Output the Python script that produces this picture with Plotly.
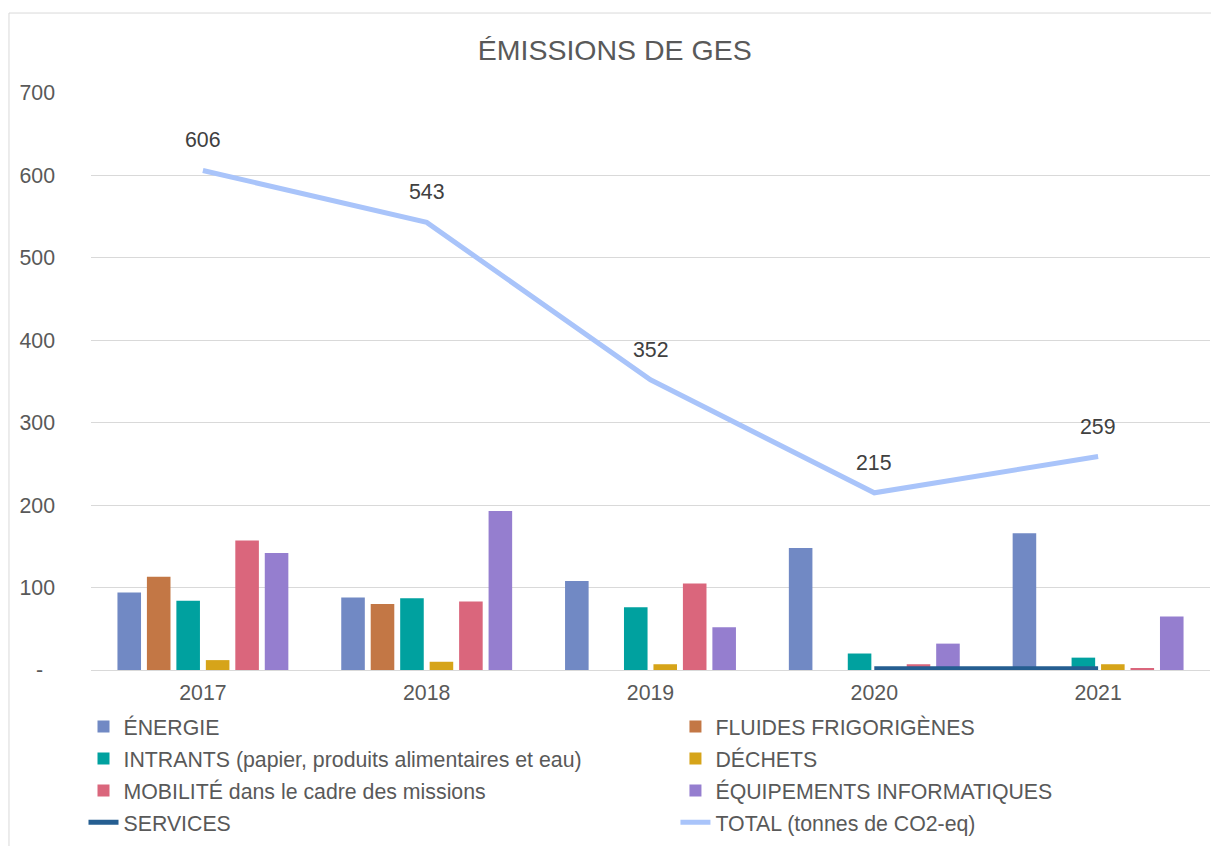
import plotly.graph_objects as go

years = ["2017", "2018", "2019", "2020", "2021"]

energie = [94, 88, 108, 148, 166]
fluides = [113, 80, None, None, None]
intrants = [84, 87, 76, 20, 15]
dechets = [12, 10, 7, 3, 7]
mobilite = [157, 83, 105, 7, 2]
equipements = [142, 193, 52, 32, 65]
services = [None, None, None, 1.5, 1.5]
total = [606, 543, 352, 215, 259]

y_ticks = [0, 100, 200, 300, 400, 500, 600, 700]
y_ticktext = ["-\u00a0\u00a0", "100", "200", "300", "400", "500", "600", "700"]

grey = "#595959"
font_family = "Liberation Sans, Arial, sans-serif"
txt_size = 21.3

# (name, values, colour, legend column)
bar_series = [
    ("ÉNERGIE", energie, "#7189C4", "legend"),
    ("FLUIDES FRIGORIGÈNES", fluides, "#C37745", "legend2"),
    ("INTRANTS (papier, produits alimentaires et eau)", intrants, "#00A19F", "legend"),
    ("DÉCHETS", dechets, "#D6A419", "legend2"),
    ("MOBILITÉ dans le cadre des missions", mobilite, "#DA667C", "legend"),
    ("ÉQUIPEMENTS INFORMATIQUES", equipements, "#957ECF", "legend2"),
]

fig = go.Figure()

for name, vals, color, leg in bar_series:
    fig.add_trace(go.Bar(
        x=years, y=vals, name=name, legend=leg, legendgroup=name,
        marker=dict(color=color, line=dict(width=0)),
    ))

fig.add_trace(go.Scatter(
    x=years, y=services, name="SERVICES", legend="legend", legendgroup="SERVICES",
    mode="lines",
    line=dict(color="#255E91", width=5),
))

fig.add_trace(go.Scatter(
    x=years, y=total, name="TOTAL (tonnes de CO2-eq)", legend="legend2",
    legendgroup="TOTAL", mode="lines",
    line=dict(color="#A9C4FA", width=5),
))

# data labels for the total (x as category index)
for i, v in enumerate(total):
    fig.add_annotation(
        x=i, y=v, text=str(v), showarrow=False, yshift=30,
        font=dict(family=font_family, size=txt_size, color="#404040"),
    )

# outer chart border
fig.add_shape(
    type="rect", xref="paper", yref="paper",
    x0=-0.0733, x1=1.0054, y0=-0.4, y1=1.1386,
    line=dict(color="#D9D9D9", width=1), fillcolor="rgba(0,0,0,0)",
    layer="below",
)

legend_common = dict(
    orientation="v", xref="paper", xanchor="left",
    yref="container", y=0.167, yanchor="top",
    tracegroupgap=1.3, traceorder="grouped",
    bgcolor="rgba(0,0,0,0)",
    font=dict(family=font_family, size=txt_size, color=grey),
)

fig.update_layout(
    width=1211, height=838,
    margin=dict(l=83, r=9, t=85, b=176),
    paper_bgcolor="white", plot_bgcolor="white",
    title=dict(
        text="ÉMISSIONS DE GES",
        xref="container", x=0.501, xanchor="center",
        yref="container", y=1 - 42 / 838, yanchor="middle",
        font=dict(family=font_family, size=28.5, color=grey),
    ),
    barmode="group", bargap=0.21, bargroupgap=0.2,
    showlegend=True,
    legend=dict(x=-0.0067, **legend_common),
    legend2=dict(x=0.5223, **legend_common),
    font=dict(family=font_family, color=grey),
)

fig.update_xaxes(
    type="category", range=[-0.5, 4.5], automargin=False,
    showgrid=False, showline=False, zeroline=False,
    tickfont=dict(family=font_family, size=txt_size, color=grey),
    ticklabelstandoff=8,
)
fig.update_yaxes(
    range=[0, 700], tickvals=y_ticks, ticktext=y_ticktext, automargin=False,
    showgrid=True, gridcolor="#D9D9D9", gridwidth=1.3,
    zeroline=True, zerolinecolor="#D9D9D9", zerolinewidth=1.3,
    showline=False,
    tickfont=dict(family=font_family, size=txt_size, color=grey),
    ticklabelstandoff=35,
)

fig.write_html("out.html")
